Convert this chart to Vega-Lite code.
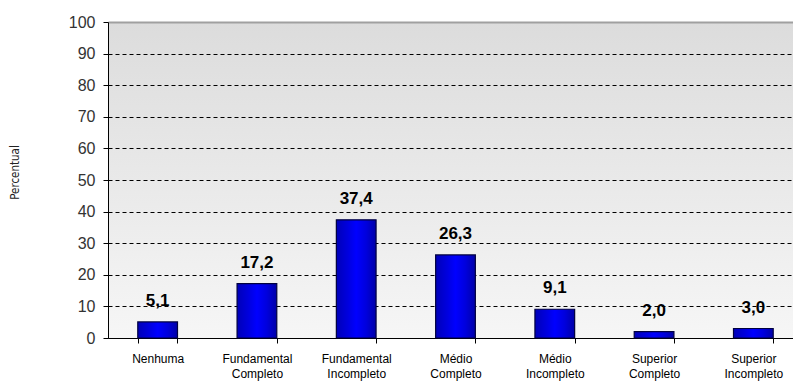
{
  "$schema": "https://vega.github.io/schema/vega-lite/v6.json",
  "width": 695,
  "height": 316,
  "autosize": {"type": "none"},
  "padding": {"left": 108, "top": 22, "right": 0, "bottom": 45},
  "background": "white",
  "config": {
    "locale": {"number": {"decimal": ",", "thousands": ".", "grouping": [3], "currency": ["R$", ""]}},
    "view": {"stroke": null, "fill": {"gradient": "linear", "x1": 0, "y1": 0, "x2": 0, "y2": 1, "stops": [{"offset": 0, "color": "#dcdcdc"}, {"offset": 1, "color": "#f6f6f6"}]}},
    "font": "Liberation Sans"
  },
  "data": {"values": [
    {"cat": "Nenhuma", "v": 5.1},
    {"cat": "Fundamental Completo", "v": 17.2},
    {"cat": "Fundamental Incompleto", "v": 37.4},
    {"cat": "Médio Completo", "v": 26.3},
    {"cat": "Médio Incompleto", "v": 9.1},
    {"cat": "Superior Completo", "v": 2.0},
    {"cat": "Superior Incompleto", "v": 3.0}
  ]},
  "encoding": {
    "x": {"field": "cat", "type": "nominal", "sort": null,
      "scale": {"paddingInner": 0.6, "paddingOuter": 0.3},
      "axis": {"title": null, "labelAngle": 0, "labelExpr": "split(datum.label, ' ')", "labelFontSize": 12, "labelColor": "#000", "labelPadding": 10, "labelLineHeight": 15, "domainColor": "#000", "tickColor": "#000", "tickBand": "extent", "tickSize": 5, "grid": false}},
    "y": {"field": "v", "type": "quantitative",
      "scale": {"domain": [0, 100], "nice": false},
      "axis": {"title": "Percentual", "titleFont": "DejaVu Sans Condensed", "titleFontWeight": "normal", "titleFontSize": 11.5, "titleColor": "#222", "titlePadding": 48, "titleY": 150, "values": [0, 10, 20, 30, 40, 50, 60, 70, 80, 90, 100], "labelFontSize": 16, "labelColor": "#333", "labelPadding": 8, "domainColor": "#000", "tickColor": "#000", "tickSize": 5, "grid": true,
        "gridColor": {"condition": {"test": "datum.value === 100", "value": "#a0a0a0"}, "value": "#000"},
        "gridDash": {"condition": {"test": "datum.value === 100", "value": []}, "value": [4, 3]},
        "gridWidth": {"condition": {"test": "datum.value === 100", "value": 2}, "value": 1.2}}}
  },
  "layer": [
    {"mark": {"type": "bar", "stroke": "#000040", "strokeWidth": 1.2,
      "color": {"gradient": "linear", "x1": 0, "y1": 0, "x2": 1, "y2": 0, "stops": [{"offset": 0, "color": "#0000b8"}, {"offset": 0.3, "color": "#0000e0"}, {"offset": 0.5, "color": "#0000ff"}, {"offset": 0.75, "color": "#0000dd"}, {"offset": 1, "color": "#0000a8"}]}}},
    {"mark": {"type": "text", "baseline": "alphabetic", "dy": -16, "fontSize": 17, "fontWeight": "bold", "color": "#000"},
      "encoding": {"text": {"field": "v", "type": "quantitative", "format": ".1f"}}}
  ]
}
